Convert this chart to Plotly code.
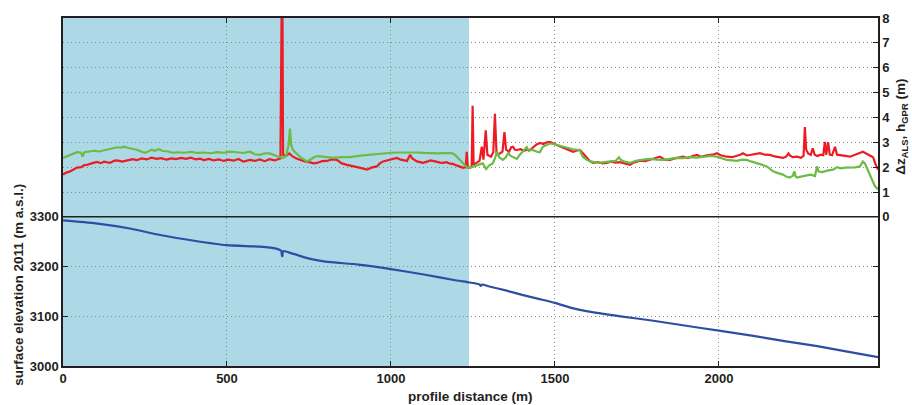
import plotly.graph_objects as go

# ---------------- data ----------------
elev_x = [0, 100, 200, 300, 400, 500, 600, 650, 665, 668, 669, 671, 700, 750, 800, 900, 1000,
          1100, 1200, 1240, 1270, 1274, 1278, 1300, 1350, 1400, 1450, 1500, 1550, 1600, 1700,
          1800, 1900, 2000, 2100, 2200, 2300, 2400, 2485]
elev_y = [3293, 3287, 3277, 3263, 3252, 3243, 3240, 3236, 3232, 3221, 3221, 3231, 3226, 3216,
          3210, 3204, 3195, 3184, 3172, 3168, 3164, 3161, 3164, 3160, 3152, 3143, 3135, 3127,
          3117, 3110, 3100, 3091, 3081, 3071, 3061, 3050, 3040, 3028, 3018]

als_x = [0, 10, 20, 30, 43, 55, 65, 73, 85, 95, 104, 115, 125, 143, 155, 165, 180, 195, 213, 225,
         240, 255, 270, 285, 300, 315, 330, 345, 360, 375, 390, 405, 418, 430, 445, 460, 475, 490,
         505, 520, 535, 550, 570, 585, 600, 615, 630, 645, 655, 663, 667, 669, 671, 680, 690, 701,
         712, 722, 735, 753, 765, 774, 790, 805, 820, 835, 850, 866, 880, 896, 910, 927, 940, 957,
         966, 976, 987, 997, 1008, 1018, 1030, 1040, 1049, 1058, 1065, 1079, 1090, 1098, 1110, 1120,
         1128, 1140, 1150, 1159, 1170, 1180, 1189, 1200, 1210, 1220, 1228, 1231, 1234, 1240, 1246,
         1249, 1252, 1262, 1270, 1277, 1282, 1289, 1294, 1305, 1312, 1317, 1322, 1332, 1340, 1346,
         1351, 1360, 1367, 1372, 1378, 1384, 1395, 1405, 1415, 1424, 1435, 1445, 1455, 1465, 1475,
         1485, 1495, 1506, 1515, 1524, 1535, 1545, 1555, 1565, 1576, 1586, 1597, 1606, 1616, 1630,
         1645, 1658, 1670, 1685, 1698, 1710, 1720, 1729, 1740, 1750, 1760, 1775, 1790, 1805, 1820,
         1835, 1851, 1865, 1880, 1891, 1905, 1920, 1933, 1945, 1960, 1973, 1985, 1994, 2005, 2015,
         2024, 2040, 2055, 2065, 2073, 2085, 2094, 2110, 2125, 2140, 2155, 2170, 2185, 2195, 2205,
         2212, 2216, 2225, 2238, 2250, 2258, 2262, 2266, 2272, 2280, 2286, 2292, 2300, 2310, 2318,
         2323, 2327, 2333, 2338, 2345, 2354, 2360, 2370, 2385, 2400, 2415, 2425, 2439, 2450, 2460,
         2470, 2476, 2485]
als_y = [1.70, 1.78, 1.82, 1.90, 1.98, 2.00, 2.08, 2.09, 2.15, 2.18, 2.21, 2.16, 2.22, 2.17, 2.25,
         2.27, 2.22, 2.26, 2.32, 2.28, 2.35, 2.31, 2.38, 2.33, 2.36, 2.30, 2.35, 2.32, 2.37, 2.33,
         2.38, 2.31, 2.34, 2.28, 2.33, 2.27, 2.31, 2.25, 2.30, 2.26, 2.33, 2.22, 2.29, 2.25, 2.31,
         2.24, 2.32, 2.27, 2.30, 2.35, 9.0, 9.0, 2.50, 2.45, 2.55, 2.42, 2.35, 2.29, 2.24, 2.19,
         2.15, 2.17, 2.24, 2.25, 2.31, 2.29, 2.15, 2.09, 2.05, 2.03, 1.96, 1.90, 1.98, 2.03, 2.15,
         2.23, 2.26, 2.29, 2.33, 2.37, 2.30, 2.26, 2.25, 2.49, 2.35, 2.23, 2.20, 2.17, 2.22, 2.27,
         2.25, 2.20, 2.18, 2.17, 2.20, 2.14, 2.13, 2.07, 2.02, 1.97, 2.00, 2.62, 2.00, 1.97, 2.03,
         4.47, 2.10, 2.17, 2.25, 2.82, 2.30, 3.48, 2.50, 2.42, 2.60, 4.15, 2.50, 2.55, 2.62, 3.41,
         2.70, 2.62, 2.80, 2.82, 2.70, 2.69, 2.72, 2.66, 2.70, 2.69, 2.80, 2.92, 2.97, 2.93, 3.00,
         3.02, 2.95, 2.89, 2.84, 2.76, 2.72, 2.66, 2.62, 2.66, 2.69, 2.55, 2.37, 2.25, 2.17, 2.20,
         2.15, 2.17, 2.22, 2.18, 2.20, 2.16, 2.12, 2.09, 2.18, 2.23, 2.26, 2.24, 2.29, 2.35, 2.42,
         2.30, 2.29, 2.35, 2.38, 2.42, 2.36, 2.45, 2.49, 2.42, 2.47, 2.49, 2.52, 2.56, 2.48, 2.45,
         2.42, 2.40, 2.45, 2.50, 2.56, 2.47, 2.49, 2.52, 2.56, 2.50, 2.49, 2.43, 2.40, 2.37, 2.42,
         2.55, 2.47, 2.40, 2.42, 2.38, 2.45, 3.61, 2.70, 2.55, 2.49, 2.76, 2.50, 2.45, 2.50, 2.48,
         3.02, 2.50, 3.00, 2.50, 2.48, 2.82, 2.50, 2.49, 2.45, 2.42, 2.48, 2.55, 2.62, 2.55, 2.49,
         2.40, 2.17, 1.90]

gpr_x = [0, 15, 30, 43, 55, 60, 65, 80, 95, 110, 125, 140, 155, 165, 175, 185, 200, 213, 225,
         240, 250, 260, 270, 280, 292, 305, 320, 335, 350, 370, 390, 410, 430, 450, 470, 490, 510,
         530, 550, 570, 585, 600, 615, 631, 645, 652, 660, 671, 680, 688, 692, 696, 701, 712, 722,
         733, 744, 756, 768, 780, 793, 808, 823, 850, 875, 900, 927, 950, 976, 1000, 1027, 1050,
         1079, 1100, 1128, 1145, 1159, 1175, 1186, 1195, 1201, 1210, 1220, 1228, 1232, 1241, 1250,
         1262, 1272, 1280, 1290, 1298, 1310, 1317, 1323, 1330, 1341, 1350, 1357, 1365, 1375, 1384,
         1393, 1402, 1414, 1420, 1430, 1445, 1454, 1463, 1475, 1485, 1495, 1506, 1515, 1524, 1540,
         1555, 1568, 1576, 1580, 1585, 1596, 1607, 1620, 1637, 1650, 1668, 1685, 1695, 1700, 1712,
         1729, 1740, 1750, 1770, 1790, 1810, 1830, 1850, 1872, 1890, 1912, 1933, 1954, 1975, 1994,
         2010, 2024, 2040, 2055, 2070, 2085, 2100, 2116, 2130, 2146, 2155, 2165, 2180, 2195, 2205,
         2216, 2225, 2230, 2234, 2238, 2250, 2268, 2280, 2293, 2299, 2304, 2315, 2330, 2348, 2360,
         2372, 2385, 2400, 2415, 2430, 2439, 2445, 2451, 2460, 2467, 2475, 2485]
gpr_y = [2.37, 2.45, 2.52, 2.60, 2.58, 2.42, 2.60, 2.64, 2.66, 2.63, 2.68, 2.70, 2.76, 2.80, 2.78,
         2.82, 2.77, 2.74, 2.70, 2.62, 2.58, 2.63, 2.70, 2.66, 2.72, 2.65, 2.63, 2.58, 2.60, 2.58,
         2.61, 2.57, 2.59, 2.56, 2.60, 2.58, 2.62, 2.60, 2.57, 2.62, 2.52, 2.49, 2.55, 2.55, 2.48,
         2.42, 2.40, 2.37, 2.45, 2.90, 3.55, 2.90, 2.69, 2.55, 2.42, 2.32, 2.23, 2.32, 2.42, 2.44,
         2.42, 2.40, 2.37, 2.40, 2.40, 2.45, 2.49, 2.53, 2.56, 2.58, 2.59, 2.60, 2.59, 2.57, 2.54,
         2.55, 2.56, 2.56, 2.56, 2.50, 2.42, 2.30, 2.17, 2.05, 1.99, 1.97, 2.02, 2.09, 2.12, 2.15,
         1.92, 2.05, 2.15, 2.35, 2.62, 2.40, 2.29, 2.40, 2.56, 2.45, 2.40, 2.33, 2.50, 2.62, 2.80,
         2.65, 2.70, 2.62, 2.60, 2.82, 2.90, 2.95, 2.93, 2.89, 2.85, 2.82, 2.76, 2.72, 2.70, 2.69,
         2.55, 2.42, 2.30, 2.23, 2.20, 2.17, 2.20, 2.23, 2.25, 2.40, 2.30, 2.22, 2.17, 2.22, 2.26,
         2.30, 2.33, 2.30, 2.29, 2.33, 2.37, 2.36, 2.40, 2.38, 2.42, 2.45, 2.42, 2.35, 2.29, 2.27,
         2.25, 2.30, 2.29, 2.22, 2.17, 2.10, 2.03, 1.95, 1.83, 1.76, 1.70, 1.62, 1.58, 1.65, 1.83,
         1.62, 1.58, 1.62, 1.67, 1.70, 1.64, 2.03, 1.82, 1.80, 1.86, 1.90, 2.00, 1.95, 1.98, 1.97,
         1.99, 2.03, 2.23, 2.15, 1.97, 1.70, 1.43, 1.25, 1.10]

x_ticks = [0, 500, 1000, 1500, 2000]
elev_ticks = [3000, 3100, 3200, 3300]
dz_ticks = [0, 1, 2, 3, 4, 5, 6, 7, 8]
shade_end = 1238

# ---------------- figure ----------------
W, H = 912, 405
ml, mr, mt, mb = 63, 34, 11, 39
pw, ph = W - ml - mr, H - mt - mb

FONT = "Liberation Sans, Arial, sans-serif"
INK = "#231f20"
GRID = "#8a8a8a"
DOT = "1px,3px"

fig = go.Figure()
fig.add_trace(go.Scatter(x=elev_x, y=elev_y, mode="lines", yaxis="y",
                         line=dict(color="#2c4fa3", width=2.2, shape="spline", smoothing=0.6),
                         showlegend=False))
fig.add_trace(go.Scatter(x=als_x, y=als_y, mode="lines", yaxis="y2",
                         line=dict(color="#ed1c24", width=2.2), showlegend=False))
fig.add_trace(go.Scatter(x=gpr_x, y=gpr_y, mode="lines", yaxis="y2",
                         line=dict(color="#6cbb45", width=2.2), showlegend=False))

tickfont = dict(family=FONT, size=13, color=INK, weight="bold")

fig.update_layout(
    width=W, height=H,
    margin=dict(l=ml, r=mr, t=mt, b=mb),
    paper_bgcolor="white", plot_bgcolor="white",
    xaxis=dict(range=[0, 2485], tickvals=x_ticks, ticks="inside", ticklen=5,
               tickcolor=INK, showline=True, linecolor=INK, linewidth=1.5,
               mirror="ticks", showgrid=True, gridcolor=GRID, griddash=DOT,
               gridwidth=1, zeroline=False, tickfont=tickfont),
    yaxis=dict(range=[3000, 3700], tickvals=elev_ticks, ticks="inside", ticklen=5,
               tickcolor=INK, showline=True, linecolor=INK, linewidth=1.5,
               mirror="ticks", showgrid=True, gridcolor=GRID, griddash=DOT,
               zeroline=False, tickfont=tickfont),
    yaxis2=dict(range=[-6, 8], tickvals=dz_ticks, overlaying="y", side="right",
                ticks="inside", ticklen=5, tickcolor=INK, showline=True,
                linecolor=INK, linewidth=1.5, showgrid=True, gridcolor=GRID,
                griddash=DOT, zeroline=False, tickfont=tickfont),
)

fig.add_shape(type="rect", xref="x", yref="paper", x0=0, x1=shade_end, y0=0, y1=1,
              fillcolor="#add8e6", line=dict(width=0), layer="below")
fig.add_shape(type="line", xref="paper", yref="y2", x0=0, x1=1, y0=0, y1=0,
              line=dict(color=INK, width=1.5), layer="above")

titlefont = dict(family=FONT, size=13.5, color=INK, weight="bold")
fig.add_annotation(text="surface elevation 2011 (m a.s.l.)", xref="paper", yref="paper",
                   x=(19 - ml) / pw, y=(H - mb - 283) / ph, textangle=-90,
                   showarrow=False, font=titlefont, xanchor="center", yanchor="middle")
fig.add_annotation(text="Δz<sub>ALS</sub>, h<sub>GPR</sub> (m)", xref="paper", yref="paper",
                   x=(902 - ml) / pw, y=(H - mb - 122) / ph, textangle=-90,
                   showarrow=False, font=titlefont, xanchor="center", yanchor="middle")
fig.add_annotation(text="profile distance (m)", xref="paper", yref="paper",
                   x=0.5, y=-(397 - (H - mb)) / ph, showarrow=False, font=titlefont,
                   xanchor="center", yanchor="middle")

fig.write_html("out.html")
